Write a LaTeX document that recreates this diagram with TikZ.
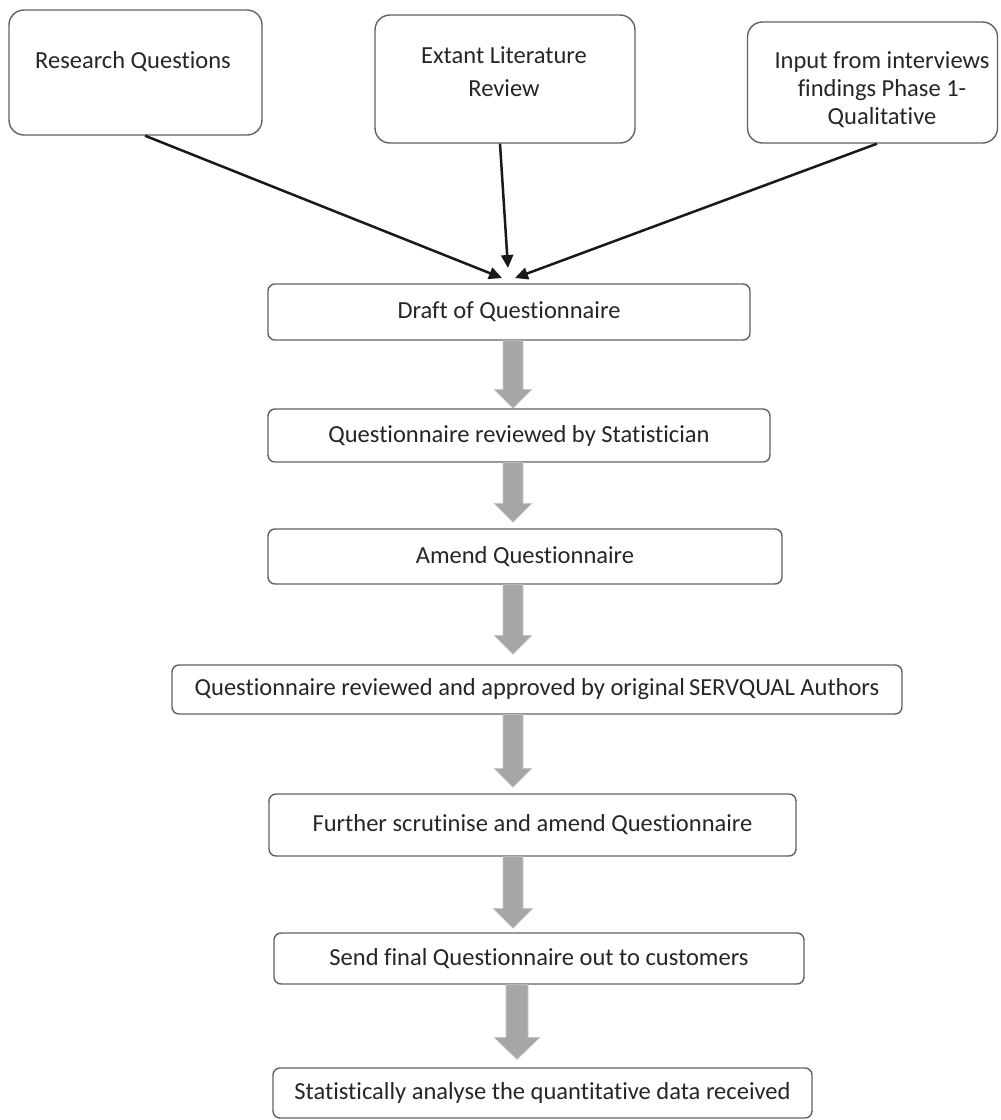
\documentclass[tikz,border=0pt]{standalone}
\usepackage{fontspec}
\setmainfont{Carlito}[Ligatures=NoCommon]
\usetikzlibrary{arrows.meta,calc}

% grey block arrow from the bottom of one box towards the top of the next
% #1 from, #2 to, #3 centre x, #4 gap above target, #5 half shaft, #6 half head, #7 head length
\newcommand\flowarrow[7]{%
  \path[barrow] let \p1=(#1.south), \p2=(#2.north) in
    ({#3pt-#5pt},\y1) -- ({#3pt+#5pt},\y1)
    -- ({#3pt+#5pt},{\y2+#4pt+#7pt}) -- ({#3pt+#6pt},{\y2+#4pt+#7pt})
    -- ({#3pt},{\y2+#4pt})
    -- ({#3pt-#6pt},{\y2+#4pt+#7pt}) -- ({#3pt-#5pt},{\y2+#4pt+#7pt}) -- cycle;}

\begin{document}
\begin{tikzpicture}[x=1pt,y=-1pt,
  every node/.style={font=\fontsize{24.5}{30}\selectfont, text=black!85},
  srcbox/.style={draw=black!62, line width=1.4pt, rounded corners=15pt, inner sep=0pt},
  stepbox/.style={draw=black!62, line width=1.4pt, rounded corners=7pt, inner sep=0pt},
  feed/.style={line width=2.5pt, draw=black!90, -{Triangle[length=13pt,width=12pt]}},
  barrow/.style={fill=black!35, draw=black!22, line width=0.6pt}]
\useasboundingbox (0,0) rectangle (1001,1120);
\fill[white] (0,0) rectangle (1001,1120);

% input sources
\node[srcbox, minimum width=253pt, minimum height=125pt] (rq) at (135.5,72.5) {};
\node (rqT) at (133,62) {Research Questions};
\node[srcbox, minimum width=260pt, minimum height=128pt] (elr) at (505,79) {};
\node[align=center, font=\fontsize{24.5}{33}\selectfont] (elrT) at (504,71.5) {Extant Literature\\Review};
\node[srcbox, minimum width=250pt, minimum height=121pt] (inp) at (872.5,82.5) {};
\node[align=center, font=\fontsize{24.5}{28}\selectfont] (inpT) at (882,90) {Input from interviews\\findings Phase 1-\\Qualitative};

% process steps
\node[stepbox, minimum width=482pt, minimum height=56pt] (draft) at (509,312) {Draft of Questionnaire};
\node[stepbox, minimum width=502pt, minimum height=53pt] (stat) at (519,435.5) {Questionnaire reviewed by Statistician};
\node[stepbox, minimum width=514pt, minimum height=55pt] (amend) at (525,556.5) {Amend Questionnaire};
\node[stepbox, minimum width=730pt, minimum height=49pt] (appr) at (537,689.5) {Questionnaire reviewed and approved by original\,SERVQUAL Authors};
\node[stepbox, minimum width=527pt, minimum height=62pt] (scrut) at (532.5,825) {Further scrutinise and amend Questionnaire};
\node[stepbox, minimum width=530pt, minimum height=51pt] (send) at (539,958.5) {Send final Questionnaire out to customers};
\node[stepbox, minimum width=539pt, minimum height=50pt] (anal) at (542.5,1093) {Statistically analyse the quantitative data received};

% converging feed arrows
\coordinate (tipL) at (502,278);
\coordinate (tipM) at (508,268);
\coordinate (tipR) at (515,278);
\draw[feed] ([xshift=9.5pt]rq.south) -- (tipL);
\draw[feed] ([xshift=-5pt]elr.south) -- (tipM);
\draw[feed] ([xshift=4.5pt]inp.south) -- (tipR);

% block arrows between steps
\flowarrow{draft}{stat}{513}{0}{10}{19}{19}
\flowarrow{stat}{amend}{513}{6}{10}{19}{19}
\flowarrow{amend}{appr}{513}{10}{10}{19}{19}
\flowarrow{appr}{scrut}{513}{6}{10}{19}{19}
\flowarrow{scrut}{send}{513}{4}{10}{20}{20}
\flowarrow{send}{anal}{517}{8}{11}{23}{22}
\end{tikzpicture}
\end{document}
